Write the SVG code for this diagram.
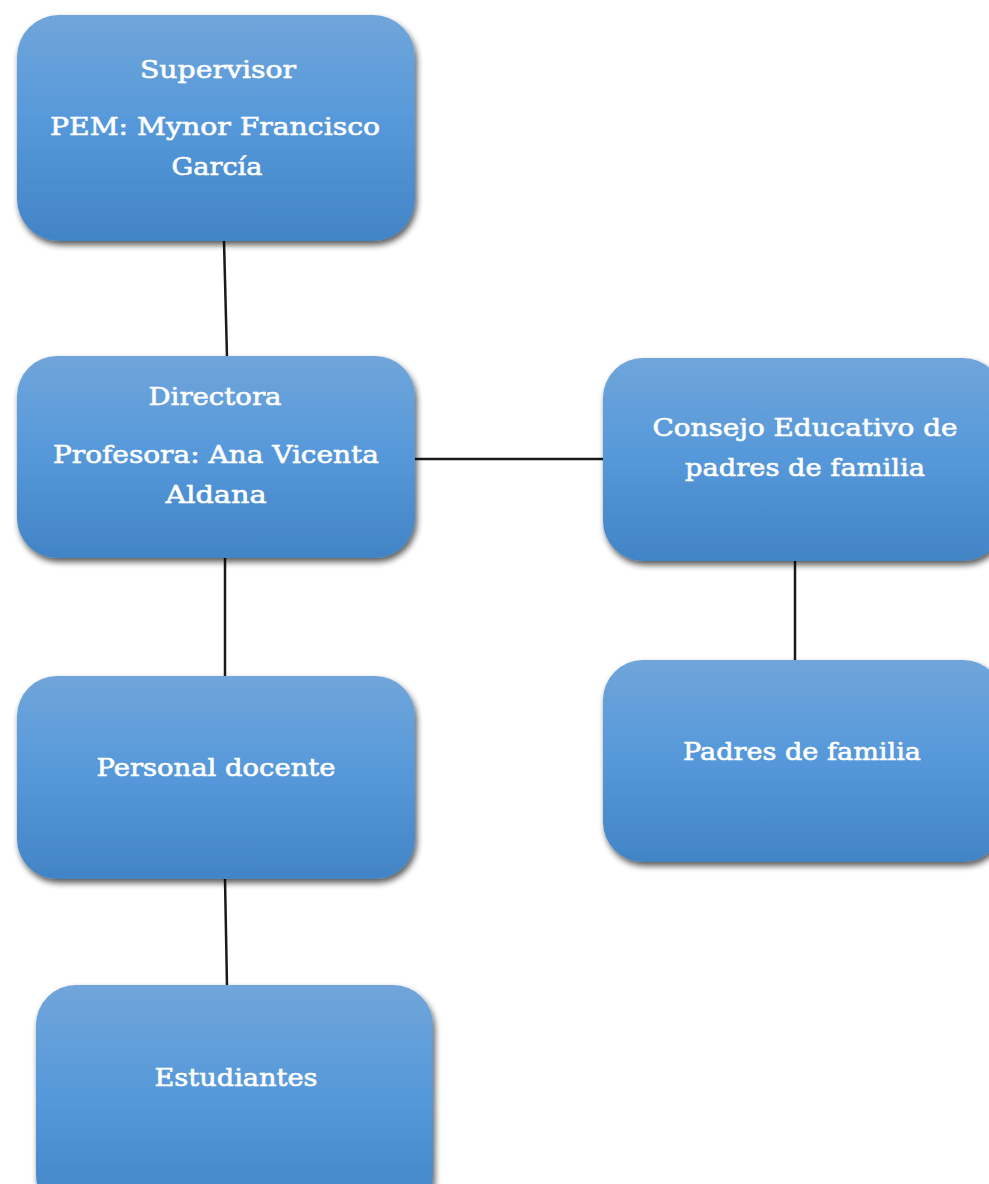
<svg xmlns="http://www.w3.org/2000/svg" width="989" height="1184" viewBox="0 0 989 1184">
  <defs>
    <linearGradient id="boxFill" x1="0" y1="0" x2="0" y2="1">
      <stop offset="0" stop-color="#70a5da"/>
      <stop offset="0.5" stop-color="#5598da"/>
      <stop offset="1" stop-color="#4284c5"/>
    </linearGradient>
    <filter id="shadow" x="-10%" y="-10%" width="125%" height="130%">
      <feGaussianBlur in="SourceAlpha" stdDeviation="3"/>
      <feOffset dx="2" dy="4" result="b"/>
      <feComponentTransfer><feFuncA type="linear" slope="0.65"/></feComponentTransfer>
      <feMerge><feMergeNode/><feMergeNode in="SourceGraphic"/></feMerge>
    </filter>
    <style>
      .box { fill: url(#boxFill); filter: url(#shadow); }
      .lbl { font-family: "DejaVu Serif", "Liberation Serif", serif; font-size: 24px; fill: #ffffff; stroke: #ffffff; stroke-width: 0.6; text-anchor: middle; }
      .link { stroke: #1a1a1a; stroke-width: 2.5; fill: none; }
    </style>
  </defs>
  <rect width="989" height="1184" fill="#ffffff"/>

  <g id="connectors">
    <line class="link" x1="224" y1="241" x2="227" y2="357"/>
    <line class="link" x1="415" y1="459" x2="604" y2="459"/>
    <line class="link" x1="225" y1="558" x2="225" y2="677"/>
    <line class="link" x1="795" y1="561" x2="795" y2="661"/>
    <line class="link" x1="225" y1="879" x2="227" y2="986"/>
  </g>

  <g id="supervisor">
    <rect class="box" x="17" y="15" width="398" height="226" rx="42"/>
    <text class="lbl" x="218" y="78" textLength="156" lengthAdjust="spacingAndGlyphs">Supervisor</text>
    <text class="lbl" x="215" y="135" textLength="330" lengthAdjust="spacingAndGlyphs">PEM: Mynor Francisco</text>
    <text class="lbl" x="217" y="175" textLength="91" lengthAdjust="spacingAndGlyphs">García</text>
  </g>

  <g id="directora">
    <rect class="box" x="17" y="356" width="398" height="202" rx="40"/>
    <text class="lbl" x="215" y="405" textLength="133" lengthAdjust="spacingAndGlyphs">Directora</text>
    <text class="lbl" x="216" y="463" textLength="326" lengthAdjust="spacingAndGlyphs">Profesora: Ana Vicenta</text>
    <text class="lbl" x="216" y="503" textLength="101" lengthAdjust="spacingAndGlyphs">Aldana</text>
  </g>

  <g id="consejo">
    <rect class="box" x="603" y="358" width="400" height="203" rx="40"/>
    <text class="lbl" x="805" y="436" textLength="305" lengthAdjust="spacingAndGlyphs">Consejo Educativo de</text>
    <text class="lbl" x="805" y="476" textLength="240" lengthAdjust="spacingAndGlyphs">padres de familia</text>
  </g>

  <g id="personal-docente">
    <rect class="box" x="17" y="676" width="398" height="203" rx="40"/>
    <text class="lbl" x="216" y="776" textLength="239" lengthAdjust="spacingAndGlyphs">Personal docente</text>
  </g>

  <g id="padres">
    <rect class="box" x="603" y="660" width="400" height="202" rx="40"/>
    <text class="lbl" x="802" y="760" textLength="238" lengthAdjust="spacingAndGlyphs">Padres de familia</text>
  </g>

  <g id="estudiantes">
    <rect class="box" x="36" y="985" width="397" height="230" rx="40"/>
    <text class="lbl" x="236" y="1086" textLength="163" lengthAdjust="spacingAndGlyphs">Estudiantes</text>
  </g>
</svg>
